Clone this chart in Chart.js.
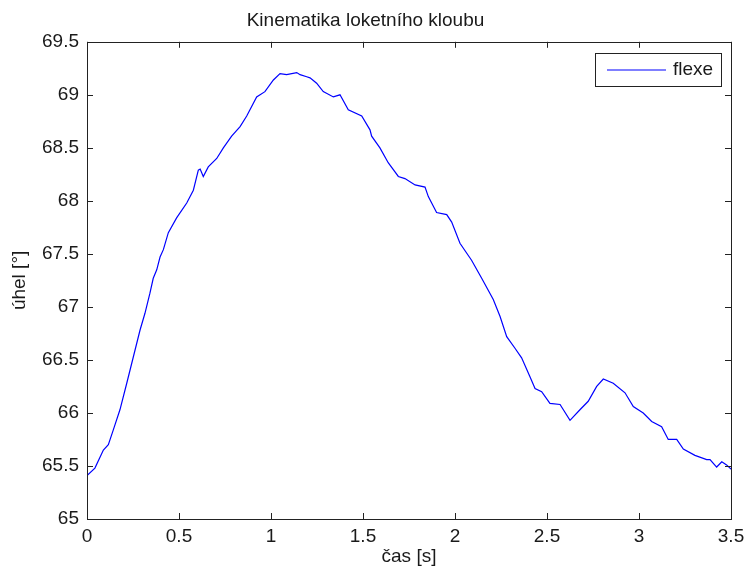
<!DOCTYPE html>
<html>
<head>
<meta charset="utf-8">
<script src="https://cdn.jsdelivr.net/npm/chart.js@4/dist/chart.umd.min.js"></script>
<style>
  html, body { margin: 0; padding: 0; background: #fff; }
  #wrap { width: 746px; height: 576px; }
</style>
</head>
<body>
<div id="wrap"><canvas id="c" width="746" height="576"></canvas></div>
<script>
// Kinematika loketního kloubu — flexe

const TITLE = 'Kinematika loketního kloubu';
const SERIES_LABEL = 'flexe';
const X_TITLE = 'čas [s]';
const Y_TITLE = 'úhel [°]';

const timeS = [
    0, 0.043, 0.089, 0.116, 0.143, 0.179, 0.216, 0.252, 0.288, 0.315,
    0.342, 0.36, 0.379, 0.397, 0.415, 0.442, 0.487, 0.542, 0.578, 0.605,
    0.615, 0.632, 0.659, 0.705, 0.741, 0.786, 0.832, 0.868, 0.922, 0.967,
    1.013, 1.049, 1.085, 1.14, 1.158, 1.194, 1.212, 1.248, 1.284, 1.339,
    1.375, 1.42, 1.493, 1.538, 1.547, 1.592, 1.637, 1.692, 1.728, 1.783,
    1.837, 1.855, 1.9, 1.955, 1.982, 2.027, 2.09, 2.145, 2.208, 2.245,
    2.281, 2.326, 2.362, 2.408, 2.435, 2.471, 2.516, 2.571, 2.625, 2.679,
    2.724, 2.77, 2.806, 2.86, 2.924, 2.969, 3.023, 3.069, 3.123, 3.159,
    3.205, 3.241, 3.304, 3.368, 3.386, 3.422, 3.45, 3.476, 3.5
];

const flexe = [
    65.41, 65.48, 65.65, 65.70, 65.84, 66.03, 66.28, 66.53, 66.78, 66.94,
    67.13, 67.27, 67.35, 67.47, 67.54, 67.70, 67.84, 67.98, 68.10, 68.29,
    68.30, 68.23, 68.32, 68.40, 68.50, 68.61, 68.70, 68.80, 68.98, 69.03,
    69.14, 69.20, 69.19, 69.21, 69.19, 69.17, 69.16, 69.11, 69.03, 68.98,
    69.00, 68.86, 68.80, 68.67, 68.61, 68.50, 68.36, 68.23, 68.21, 68.15,
    68.13, 68.04, 67.89, 67.87, 67.80, 67.60, 67.44, 67.27, 67.07, 66.91,
    66.72, 66.61, 66.52, 66.34, 66.23, 66.20, 66.09, 66.08, 65.93, 66.03,
    66.11, 66.25, 66.32, 66.28, 66.19, 66.06, 66.00, 65.92, 65.87, 65.75,
    65.75, 65.66, 65.60, 65.56, 65.56, 65.49, 65.54, 65.51, 65.47
];

const X_MIN = 0, X_MAX = 3.5, X_STEP = 0.5;
const Y_MIN = 65, Y_MAX = 69.5, Y_STEP = 0.5;

const FONT = "'Liberation Sans', Arial, sans-serif";
const TEXT = '#1a1a1a';
const AXIS = '#222222';
const BLUE = '#0000ff';

// čísla bez koncové nuly (65, 65.5, 66 …)
const plainNum = v => String(Math.round(v * 10) / 10);

// box around the axes + inward ticks on all four sides (MATLAB style)
const boxTicks = {
    id: 'boxTicks',
    afterDatasetsDraw(chart) {
        const { ctx, chartArea: a, scales } = chart;
        const len = 6;
        ctx.save();
        ctx.strokeStyle = AXIS;
        ctx.lineWidth = 1;
        ctx.beginPath();
        scales.x.ticks.forEach(t => {
            const px = Math.round(scales.x.getPixelForValue(t.value)) + 0.5;
            ctx.moveTo(px, a.bottom); ctx.lineTo(px, a.bottom - len);
            ctx.moveTo(px, a.top); ctx.lineTo(px, a.top + len);
        });
        scales.y.ticks.forEach(t => {
            const py = Math.round(scales.y.getPixelForValue(t.value)) + 0.5;
            ctx.moveTo(a.left, py); ctx.lineTo(a.left + len, py);
            ctx.moveTo(a.right, py); ctx.lineTo(a.right - len, py);
        });
        ctx.stroke();
        ctx.strokeRect(Math.round(a.left) + 0.5, Math.round(a.top) + 0.5,
            Math.round(a.right - a.left), Math.round(a.bottom - a.top));
        ctx.restore();
    }
};

// boxed legend in the top-right corner of the axes
const boxLegend = {
    id: 'boxLegend',
    afterDraw(chart) {
        const { ctx, chartArea: a } = chart;
        const ds = chart.data.datasets[0];
        ctx.save();
        ctx.font = '19px ' + FONT;
        const tw = ctx.measureText(ds.label).width;
        const w = 12 + 59 + 7 + tw + 8;
        const h = 33;
        const right = Math.round(a.right) - 10;
        const left = right - Math.round(w);
        const top = Math.round(a.top) + 11;
        ctx.fillStyle = '#fff';
        ctx.fillRect(left, top, right - left, h);
        ctx.strokeStyle = AXIS;
        ctx.lineWidth = 1;
        ctx.strokeRect(left + 0.5, top + 0.5, right - left, h);
        const cy = top + h / 2 + 0.5;
        ctx.strokeStyle = ds.borderColor;
        ctx.lineWidth = ds.borderWidth;
        ctx.beginPath();
        ctx.moveTo(left + 12, cy);
        ctx.lineTo(left + 71, cy);
        ctx.stroke();
        ctx.fillStyle = TEXT;
        ctx.textBaseline = 'middle';
        ctx.fillText(ds.label, left + 78, cy);
        ctx.restore();
    }
};

new Chart(document.getElementById('c'), {
    type: 'line',
    data: {
        datasets: [{
            label: SERIES_LABEL,
            data: timeS.map((t, i) => ({ x: t, y: flexe[i] })),
            borderColor: BLUE,
            borderWidth: 1.2,
            pointRadius: 0,
            tension: 0,
            fill: false,
        }]
    },
    options: {
        responsive: false,
        animation: false,
        layout: { padding: { left: 0, right: 15, top: 0, bottom: 0 } },
        plugins: {
            legend: { display: false },
            tooltip: { enabled: false },
            title: {
                display: true,
                text: TITLE,
                color: TEXT,
                font: { family: FONT, size: 19, weight: 'normal' },
                padding: { top: 9, bottom: 10 },
            },
        },
        scales: {
            x: {
                type: 'linear',
                min: X_MIN,
                max: X_MAX,
                afterFit: s => {
                    s.height = 57;
                    s.paddingLeft = 0;
                    s.paddingRight = 0;
                },
                grid: { display: false, drawTicks: false },
                border: { display: false },
                ticks: {
                    stepSize: X_STEP,
                    color: TEXT,
                    padding: 6,
                    maxRotation: 0,
                    font: { family: FONT, size: 19 },
                    callback: plainNum,
                },
                title: {
                    display: true,
                    text: X_TITLE,
                    color: TEXT,
                    font: { family: FONT, size: 19 },
                    padding: { top: 0, bottom: 8 },
                },
            },
            y: {
                min: Y_MIN,
                max: Y_MAX,
                afterFit: s => { s.width = 87; },
                grid: { display: false, drawTicks: false },
                border: { display: false },
                ticks: {
                    stepSize: Y_STEP,
                    color: TEXT,
                    padding: 8,
                    font: { family: FONT, size: 19 },
                    callback: plainNum,
                },
                title: {
                    display: true,
                    text: Y_TITLE,
                    color: TEXT,
                    font: { family: FONT, size: 19 },
                    padding: { top: 8, bottom: 0 },
                },
            },
        },
    },
    plugins: [boxTicks, boxLegend],
});
</script>
</body>
</html>
